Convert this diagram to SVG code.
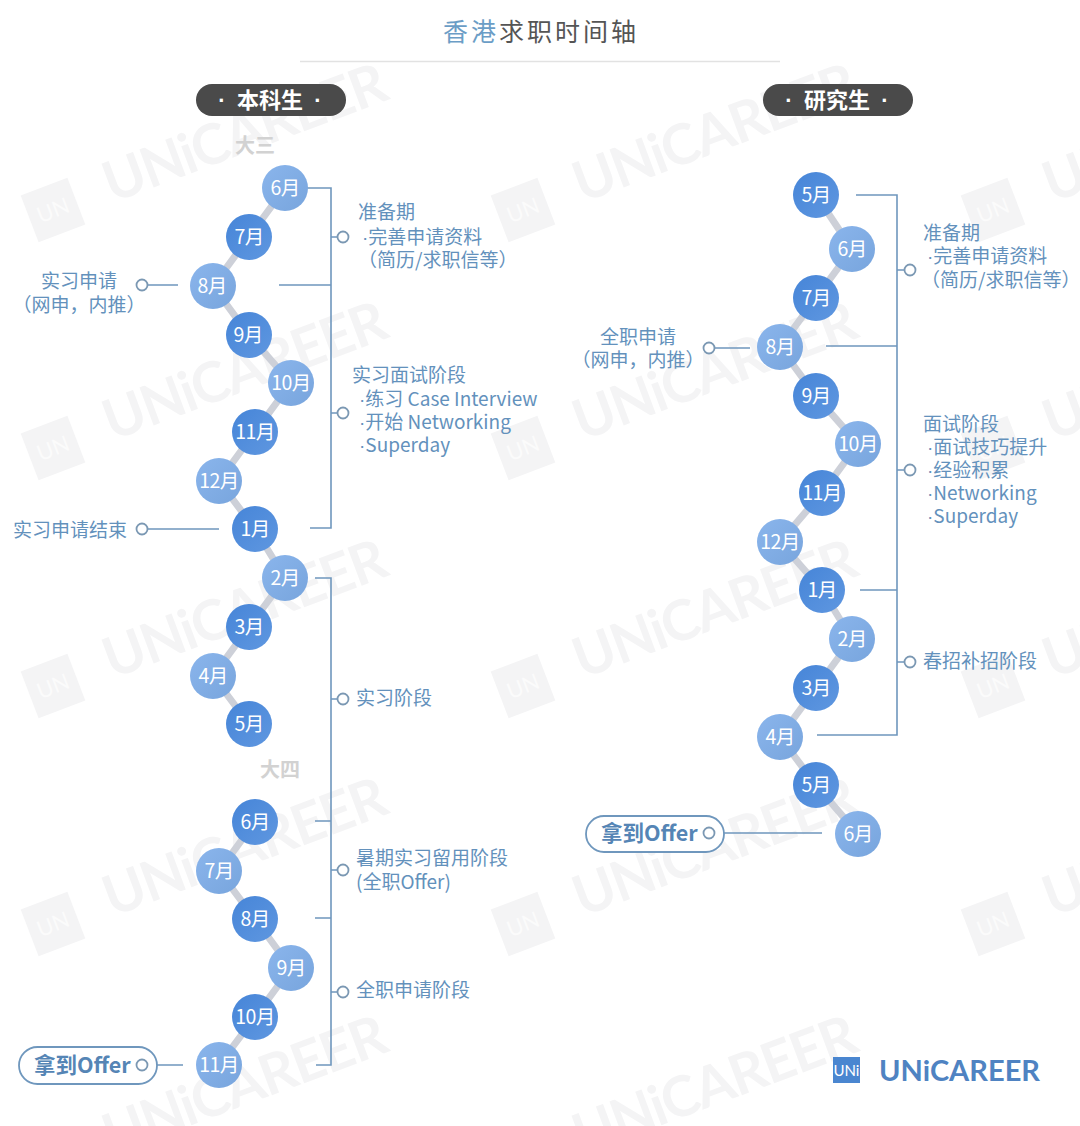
<svg xmlns="http://www.w3.org/2000/svg" xmlns:xlink="http://www.w3.org/1999/xlink" width="1080" height="1126" viewBox="0 0 1080 1126">
<style>
text{font-family:"Noto Sans CJK SC","Noto Sans",sans-serif}
.lbl{font-size:19px;fill:#6391bc}
.lblc{font-size:19px;fill:#6391bc;text-anchor:middle}
.b{font-family:"Liberation Sans",sans-serif;font-weight:700}
.n{font-family:"Liberation Sans",sans-serif}
.m{font-size:19.5px;fill:#fff;text-anchor:middle;letter-spacing:-.6px}
.d{fill:url(#gd)}
.l{fill:url(#gl)}
.br{fill:none;stroke:#6f97bd;stroke-width:1.6}
.dot{fill:#fff;stroke:#7b98b3;stroke-width:1.8}
.lk{fill:none;stroke:#cdd0d8;stroke-width:7}
.pill{fill:#4a4a4a}
.pt{font-size:22px;font-weight:700;fill:#fff;text-anchor:middle}
.yr{font-size:20px;font-weight:700;fill:#d2d2d2;text-anchor:middle}
.of{fill:#fff;stroke:#6f97bd;stroke-width:1.8}
.oft{font-size:21.5px;font-weight:700;fill:#5585b5}
.wmt{font-family:"Lato","Open Sans",sans-serif;font-size:56px;font-weight:700;fill:#f4f4f5}
.wmr{fill:#f4f4f5}
.wmu{font-family:"Lato",sans-serif;font-size:22px;font-weight:400;fill:#fbfbfb}
</style>
<defs>
<linearGradient id="gd" x1="0" y1="0" x2="1" y2="1"><stop offset="0" stop-color="#4685d8"/><stop offset="1" stop-color="#5f97e0"/></linearGradient>
<linearGradient id="gl" x1="0" y1="0" x2="1" y2="1"><stop offset="0" stop-color="#8ab5ec"/><stop offset="1" stop-color="#78a5dd"/></linearGradient>
<g id="wm">
<g transform="rotate(-21 53 210)"><rect x="28" y="185" width="50" height="50" class="wmr"/><text x="53" y="218" class="wmu" text-anchor="middle">UN</text></g>
<text x="112" y="203" class="wmt" transform="rotate(-20.500 112 203)" textLength="298">UNiCAREER</text>
</g>
</defs>
<rect width="1080" height="1126" fill="#fff"/>
<g id="watermarks">
<use xlink:href="#wm"/><use xlink:href="#wm" x="470"/><use xlink:href="#wm" x="940"/>
<use xlink:href="#wm" y="238"/><use xlink:href="#wm" x="470" y="238"/><use xlink:href="#wm" x="940" y="238"/>
<use xlink:href="#wm" y="476"/><use xlink:href="#wm" x="470" y="476"/><use xlink:href="#wm" x="940" y="476"/>
<use xlink:href="#wm" y="714"/><use xlink:href="#wm" x="470" y="714"/><use xlink:href="#wm" x="940" y="714"/>
<use xlink:href="#wm" y="952"/><use xlink:href="#wm" x="470" y="952"/>
</g>
<g id="title">
<text x="443" y="41" font-size="25" letter-spacing="3"><tspan fill="#6b9dc6">香港</tspan><tspan fill="#555">求职时间轴</tspan></text>
<line x1="300" y1="61.500" x2="780" y2="61.500" stroke="#e2e2e2" stroke-width="1.500"/>
</g>
<g id="connectors">
<polyline class="lk" points="285,188 249,237 213,286 249,335 291,383 255,432 219,481 255,529 285,578 249,627 213,676 249,724"/>
<polyline class="lk" points="255,822 219,871 255,919 291,968 255,1017 219,1065"/>
<polyline class="lk" points="816,195 852,249 816,298 780,347 816,396 858,444 822,493 780,542 822,590 852,639 816,688 780,737 816,785 858,834"/>
<path class="br" d="M305 188H331V528H310M279 285H331M331 237H338M331 413H338"/>
<path class="br" d="M315 578H331V1065H316M315 821H331M315 918H331M331 699H338M331 870H338M331 992H338"/>
<path class="br" d="M856 195H897V735H817M826 346H897M860 590H897M897 270H905M897 470H905M897 662H905"/>
<path class="br" d="M148 285H178M148 529H219M148 1065H183M715 348H750M715 833H822"/>
</g>
<g id="pill-undergrad"><rect class="pill" x="196" y="84" width="150" height="32" rx="16"/><text class="pt" y="108"><tspan class="b" x="222">·</tspan><tspan x="270">本科生</tspan><tspan class="b" x="318">·</tspan></text></g>
<g id="pill-grad"><rect class="pill" x="763" y="84" width="150" height="32" rx="16"/><text class="pt" y="108"><tspan class="b" x="789">·</tspan><tspan x="837">研究生</tspan><tspan class="b" x="885">·</tspan></text></g>
<text class="yr" x="255" y="153">大三</text>
<text class="yr" x="280" y="777">大四</text>
<g id="offer-left"><rect class="of" x="19" y="1047" width="138" height="37" rx="18.500"/><text class="oft" x="34" y="1073">拿到Offer</text></g>
<g id="offer-right"><rect class="of" x="586" y="816" width="138" height="36" rx="18"/><text class="oft" x="601" y="841">拿到Offer</text></g>
<g id="dots">
<circle class="dot" cx="343" cy="237" r="5.500"/><circle class="dot" cx="343" cy="413" r="5.500"/><circle class="dot" cx="343" cy="699" r="5.500"/><circle class="dot" cx="343" cy="870" r="5.500"/><circle class="dot" cx="343" cy="992" r="5.500"/>
<circle class="dot" cx="142" cy="285" r="5.500"/><circle class="dot" cx="142" cy="529" r="5.500"/><circle class="dot" cx="142" cy="1065" r="5.500"/>
<circle class="dot" cx="910" cy="270" r="5.500"/><circle class="dot" cx="910" cy="470" r="5.500"/><circle class="dot" cx="910" cy="662" r="5.500"/>
<circle class="dot" cx="709" cy="348" r="5.500"/><circle class="dot" cx="709" cy="833" r="5.500"/>
</g>
<g id="u-jun3"><circle class="l" cx="285" cy="188" r="23"/><text class="m" x="285" y="195">6月</text></g>
<g id="u-jul3"><circle class="d" cx="249" cy="237" r="23"/><text class="m" x="249" y="244">7月</text></g>
<g id="u-aug3"><circle class="l" cx="213" cy="286" r="23"/><text class="m" x="212" y="293">8月</text></g>
<g id="u-sep3"><circle class="d" cx="249" cy="335" r="23"/><text class="m" x="248" y="342">9月</text></g>
<g id="u-oct3"><circle class="l" cx="291" cy="383" r="23"/><text class="m" x="291" y="390">10月</text></g>
<g id="u-nov3"><circle class="d" cx="255" cy="432" r="23"/><text class="m" x="255" y="439">11月</text></g>
<g id="u-dec3"><circle class="l" cx="219" cy="481" r="23"/><text class="m" x="219" y="488">12月</text></g>
<g id="u-jan3"><circle class="d" cx="255" cy="529" r="23"/><text class="m" x="255" y="536">1月</text></g>
<g id="u-feb3"><circle class="l" cx="285" cy="578" r="23"/><text class="m" x="285" y="585">2月</text></g>
<g id="u-mar3"><circle class="d" cx="249" cy="627" r="23"/><text class="m" x="249" y="634">3月</text></g>
<g id="u-apr3"><circle class="l" cx="213" cy="676" r="23"/><text class="m" x="213" y="683">4月</text></g>
<g id="u-may3"><circle class="d" cx="249" cy="724" r="23"/><text class="m" x="249" y="731">5月</text></g>
<g id="u-jun4"><circle class="d" cx="255" cy="822" r="23"/><text class="m" x="255" y="829">6月</text></g>
<g id="u-jul4"><circle class="l" cx="219" cy="871" r="23"/><text class="m" x="219" y="878">7月</text></g>
<g id="u-aug4"><circle class="d" cx="255" cy="919" r="23"/><text class="m" x="255" y="926">8月</text></g>
<g id="u-sep4"><circle class="l" cx="291" cy="968" r="23"/><text class="m" x="291" y="975">9月</text></g>
<g id="u-oct4"><circle class="d" cx="255" cy="1017" r="23"/><text class="m" x="255" y="1024">10月</text></g>
<g id="u-nov4"><circle class="l" cx="219" cy="1065" r="23"/><text class="m" x="219" y="1072">11月</text></g>
<g id="g-may1"><circle class="d" cx="816" cy="195" r="23"/><text class="m" x="816" y="202">5月</text></g>
<g id="g-jun1"><circle class="l" cx="852" cy="249" r="23"/><text class="m" x="852" y="256">6月</text></g>
<g id="g-jul"><circle class="d" cx="816" cy="298" r="23"/><text class="m" x="816" y="305">7月</text></g>
<g id="g-aug"><circle class="l" cx="780" cy="347" r="23"/><text class="m" x="780" y="354">8月</text></g>
<g id="g-sep"><circle class="d" cx="816" cy="396" r="23"/><text class="m" x="816" y="403">9月</text></g>
<g id="g-oct"><circle class="l" cx="858" cy="444" r="23"/><text class="m" x="858" y="451">10月</text></g>
<g id="g-nov"><circle class="d" cx="822" cy="493" r="23"/><text class="m" x="822" y="500">11月</text></g>
<g id="g-dec"><circle class="l" cx="780" cy="542" r="23"/><text class="m" x="780" y="549">12月</text></g>
<g id="g-jan"><circle class="d" cx="822" cy="590" r="23"/><text class="m" x="822" y="597">1月</text></g>
<g id="g-feb"><circle class="l" cx="852" cy="639" r="23"/><text class="m" x="852" y="646">2月</text></g>
<g id="g-mar"><circle class="d" cx="816" cy="688" r="23"/><text class="m" x="816" y="695">3月</text></g>
<g id="g-apr"><circle class="l" cx="780" cy="737" r="23"/><text class="m" x="780" y="744">4月</text></g>
<g id="g-may2"><circle class="d" cx="816" cy="785" r="23"/><text class="m" x="816" y="792">5月</text></g>
<g id="g-jun2"><circle class="l" cx="858" cy="834" r="23"/><text class="m" x="858" y="841">6月</text></g>
<g id="labels">
<text class="lbl" x="358" y="219">准备期</text>
<text class="lbl" x="362" y="244"><tspan class="n">·</tspan>完善申请资料</text>
<text class="lbl" x="358" y="267">（简历/求职信等）</text>
<text class="lblc" x="79" y="288">实习申请</text>
<text class="lblc" x="79" y="312">（网申，内推）</text>
<text class="lbl" x="352" y="382">实习面试阶段</text>
<text class="lbl" x="359" y="406"><tspan class="n">·</tspan>练习 Case Interview</text>
<text class="lbl" x="359" y="429"><tspan class="n">·</tspan>开始 Networking</text>
<text class="lbl" x="359" y="452"><tspan class="n">·</tspan>Superday</text>
<text class="lbl" x="13" y="537">实习申请结束</text>
<text class="lbl" x="356" y="705">实习阶段</text>
<text class="lbl" x="356" y="865">暑期实习留用阶段</text>
<text class="lbl" x="356" y="889">(全职Offer)</text>
<text class="lbl" x="356" y="997">全职申请阶段</text>
<text class="lbl" x="923" y="240">准备期</text>
<text class="lbl" x="927" y="263"><tspan class="n">·</tspan>完善申请资料</text>
<text class="lbl" x="921" y="287">（简历/求职信等）</text>
<text class="lblc" x="638" y="344">全职申请</text>
<text class="lblc" x="638" y="367">（网申，内推）</text>
<text class="lbl" x="923" y="431">面试阶段</text>
<text class="lbl" x="927" y="454"><tspan class="n">·</tspan>面试技巧提升</text>
<text class="lbl" x="927" y="477"><tspan class="n">·</tspan>经验积累</text>
<text class="lbl" x="927" y="500"><tspan class="n">·</tspan>Networking</text>
<text class="lbl" x="927" y="523"><tspan class="n">·</tspan>Superday</text>
<text class="lbl" x="923" y="668">春招补招阶段</text>
</g>
<g id="logo">
<rect x="833" y="1057" width="27" height="26" fill="#4a86d0"/>
<text x="846.500" y="1076" font-size="15" font-weight="400" fill="#fff" text-anchor="middle" style="font-family:Lato,sans-serif">UNi</text>
<text x="879" y="1081" font-size="29" font-weight="700" fill="#4f83c2" textLength="161" style="font-family:Lato,sans-serif">UNiCAREER</text>
</g>
</svg>
